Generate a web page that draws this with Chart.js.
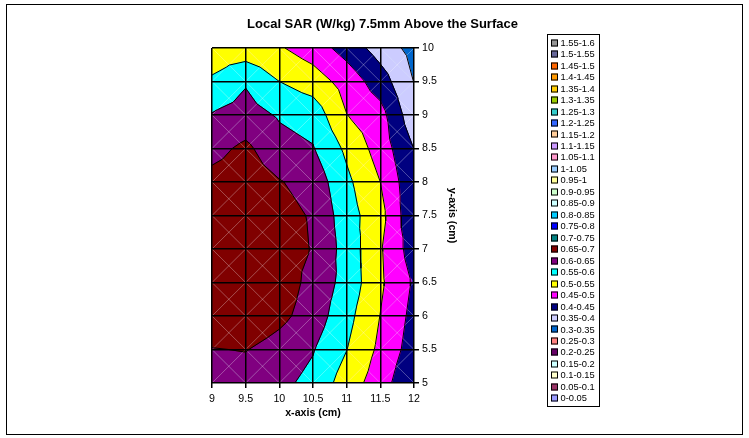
<!DOCTYPE html>
<html>
<head>
<meta charset="utf-8">
<script src="https://cdn.jsdelivr.net/npm/chart.js@4.4.0/dist/chart.umd.min.js"></script>
<style>
  html, body { margin: 0; padding: 0; background: #fff; }
  #wrap { width: 749px; height: 438px; }
</style>
</head>
<body>
<div id="wrap"><canvas id="chart" width="749" height="438"></canvas></div>
<script>
// grid of the measurement (cm)
const xValues = [9, 9.5, 10, 10.5, 11, 11.5, 12];
const yValues = [10, 9.5, 9, 8.5, 8, 7.5, 7, 6.5, 6, 5.5, 5];

// local SAR (W/kg), one row per y value (top row = y 10)
const sar = [
  [0.525, 0.520, 0.505, 0.475, 0.430, 0.378, 0.333],
  [0.556, 0.595, 0.550, 0.525, 0.480, 0.424, 0.349],
  [0.603, 0.620, 0.595, 0.580, 0.501, 0.469, 0.365],
  [0.635, 0.660, 0.618, 0.603, 0.540, 0.478, 0.399],
  [0.665, 0.675, 0.653, 0.631, 0.561, 0.500, 0.410],
  [0.685, 0.690, 0.668, 0.645, 0.572, 0.517, 0.408],
  [0.690, 0.693, 0.675, 0.647, 0.580, 0.505, 0.425],
  [0.690, 0.692, 0.680, 0.633, 0.583, 0.508, 0.444],
  [0.685, 0.688, 0.663, 0.627, 0.566, 0.499, 0.435],
  [0.648, 0.652, 0.630, 0.603, 0.551, 0.489, 0.426],
  [0.625, 0.625, 0.612, 0.586, 0.526, 0.474, 0.402]
];

// contour bands, lowest first
const bandLows = [0, 0.05, 0.1, 0.15, 0.2, 0.25, 0.3, 0.35, 0.4, 0.45, 0.5, 0.55, 0.6, 0.65, 0.7, 0.75,
  0.8, 0.85, 0.9, 0.95, 1, 1.05, 1.1, 1.15, 1.2, 1.25, 1.3, 1.35, 1.4, 1.45, 1.5, 1.55];
const bandLabels = ['0-0.05', '0.05-0.1', '0.1-0.15', '0.15-0.2', '0.2-0.25', '0.25-0.3', '0.3-0.35',
  '0.35-0.4', '0.4-0.45', '0.45-0.5', '0.5-0.55', '0.55-0.6', '0.6-0.65', '0.65-0.7', '0.7-0.75',
  '0.75-0.8', '0.8-0.85', '0.85-0.9', '0.9-0.95', '0.95-1', '1-1.05', '1.05-1.1', '1.1-1.15',
  '1.15-1.2', '1.2-1.25', '1.25-1.3', '1.3-1.35', '1.35-1.4', '1.4-1.45', '1.45-1.5', '1.5-1.55', '1.55-1.6'];
const bandColors = ['#9999FF', '#993366', '#FFFFCC', '#CCFFFF', '#660066', '#FF8080', '#0066CC',
  '#CCCCFF', '#000080', '#FF00FF', '#FFFF00', '#00FFFF', '#800080', '#800000', '#008080',
  '#0000FF', '#00CCFF', '#CCFFFF', '#CCFFCC', '#FFFF99', '#99CCFF', '#FF99CC', '#CC99FF',
  '#FFCC99', '#3366FF', '#33CCCC', '#99CC00', '#FFCC00', '#FF9900', '#FF6600', '#666699', '#969696'];

const FONT = "'Liberation Sans', Arial, sans-serif";

// split every cell in 4 triangles round its centre (like Excel does)
function triangles() {
  const tris = [];
  for (let r = 0; r < yValues.length - 1; r++) {
    for (let c = 0; c < xValues.length - 1; c++) {
      const a = [xValues[c], yValues[r], sar[r][c]];
      const b = [xValues[c + 1], yValues[r], sar[r][c + 1]];
      const d = [xValues[c + 1], yValues[r + 1], sar[r + 1][c + 1]];
      const e = [xValues[c], yValues[r + 1], sar[r + 1][c]];
      const m = [(a[0] + b[0]) / 2, (a[1] + e[1]) / 2, (a[2] + b[2] + d[2] + e[2]) / 4];
      tris.push([a, b, m], [b, d, m], [d, e, m], [e, a, m]);
    }
  }
  return tris;
}

function cut(p, q, L) {
  const t = (L - p[2]) / (q[2] - p[2]);
  return [p[0] + t * (q[0] - p[0]), p[1] + t * (q[1] - p[1]), L];
}

// part of a triangle where value >= L
function clipAbove(tri, L) {
  const out = [];
  for (let i = 0; i < 3; i++) {
    const p = tri[i], q = tri[(i + 1) % 3];
    const pin = p[2] >= L, qin = q[2] >= L;
    if (pin) out.push(p);
    if (pin !== qin) out.push(cut(p, q, L));
  }
  return out;
}

function isoLine(tri, L) {
  const pts = [];
  for (let i = 0; i < 3; i++) {
    const p = tri[i], q = tri[(i + 1) % 3];
    if ((p[2] < L) !== (q[2] < L)) pts.push(cut(p, q, L));
  }
  return pts.length === 2 ? pts : null;
}

const tris = triangles();
const datasets = [];
const gap = { x: null, y: null };

bandLows.forEach((low, k) => {
  const pts = [];
  tris.forEach(t => {
    const poly = clipAbove(t, low);
    if (poly.length < 3) return;
    poly.forEach(p => pts.push({ x: p[0], y: p[1] }));
    pts.push({ x: poly[0][0], y: poly[0][1] }, gap);
  });
  if (!pts.length) return;
  datasets.push({
    label: bandLabels[k], data: pts, fill: 'shape',
    backgroundColor: bandColors[k], borderColor: bandColors[k], borderWidth: 1,
    pointRadius: 0, order: 200 - k
  });
});

// faint diagonals of each cell
const diag = [];
for (let r = 0; r < yValues.length - 1; r++) {
  for (let c = 0; c < xValues.length - 1; c++) {
    diag.push({ x: xValues[c], y: yValues[r] }, { x: xValues[c + 1], y: yValues[r + 1] }, gap);
    diag.push({ x: xValues[c], y: yValues[r + 1] }, { x: xValues[c + 1], y: yValues[r] }, gap);
  }
}
datasets.push({ data: diag, borderColor: 'rgba(255,255,255,0.3)', borderWidth: 1, pointRadius: 0, fill: false, order: 10 });

// contour lines
const iso = [];
bandLows.forEach(low => {
  if (low === 0) return;
  tris.forEach(t => {
    const s = isoLine(t, low);
    if (s) iso.push({ x: s[0][0], y: s[0][1] }, { x: s[1][0], y: s[1][1] }, gap);
  });
});
datasets.push({ data: iso, borderColor: '#000', borderWidth: 1, pointRadius: 0, fill: false, order: 5 });

const decor = {
  id: 'decor',
  afterDraw(chart) {
    const ctx = chart.ctx;
    const area = chart.chartArea;
    ctx.save();
    // outer frame
    ctx.strokeStyle = '#000';
    ctx.lineWidth = 1;
    ctx.strokeRect(6.5, 4.5, 736, 430);

    ctx.fillStyle = '#000';
    ctx.textAlign = 'center';
    ctx.textBaseline = 'alphabetic';
    ctx.font = 'bold 13px ' + FONT;
    ctx.fillText('Local SAR (W/kg) 7.5mm Above the Surface', 382.5, 28);

    ctx.textBaseline = 'middle';
    ctx.font = 'bold 10.67px ' + FONT;
    ctx.fillText('x-axis (cm)', (area.left + area.right) / 2, 413);
    ctx.save();
    ctx.translate(452, (area.top + area.bottom) / 2);
    ctx.rotate(Math.PI / 2);
    ctx.fillText('y-axis (cm)', 0, 0);
    ctx.restore();

    // legend, highest band on top
    ctx.lineWidth = 1;
    ctx.strokeRect(547.5, 34.5, 52, 372);
    ctx.font = '9.33px ' + FONT;
    ctx.textAlign = 'left';
    for (let i = 0; i < bandLabels.length; i++) {
      const k = bandLabels.length - 1 - i;
      const yc = 42.7 + i * 11.47;
      ctx.fillStyle = bandColors[k];
      ctx.fillRect(551, Math.round(yc) - 3.5, 7, 7);
      ctx.strokeStyle = '#000';
      ctx.strokeRect(551.5, Math.round(yc) - 3, 6, 6);
      ctx.fillStyle = '#000';
      ctx.fillText(bandLabels[k], 560.5, yc + 0.5);
    }
    ctx.restore();
  }
};

const tickFont = { family: FONT, size: 10.67 };

new Chart(document.getElementById('chart'), {
  type: 'line',
  data: { datasets },
  options: {
    responsive: false,
    animation: false,
    devicePixelRatio: 1,
    layout: { padding: { left: 212, top: 48, right: 295, bottom: 25 } },
    plugins: { legend: { display: false }, title: { display: false }, tooltip: { enabled: false } },
    elements: { line: { tension: 0 } },
    scales: {
      x: {
        type: 'linear', position: 'bottom', min: 9, max: 12,
        ticks: { stepSize: 0.5, color: '#000', font: tickFont, padding: 5, maxRotation: 0, autoSkip: false,
          callback: v => String(v) },
        grid: { color: '#000', lineWidth: 1.5, tickLength: 5, z: 1 },
        border: { display: false },
        afterFit(s) { s.height = 30; }
      },
      y: {
        type: 'linear', position: 'right', min: 5, max: 10,
        ticks: { stepSize: 0.5, color: '#000', font: tickFont, padding: 3, autoSkip: false,
          callback: v => String(v) },
        grid: { color: '#000', lineWidth: 1.5, tickLength: 5, z: 1 },
        border: { display: false },
        afterFit(s) { s.width = 40; }
      }
    }
  },
  plugins: [decor]
});
</script>
</body>
</html>
